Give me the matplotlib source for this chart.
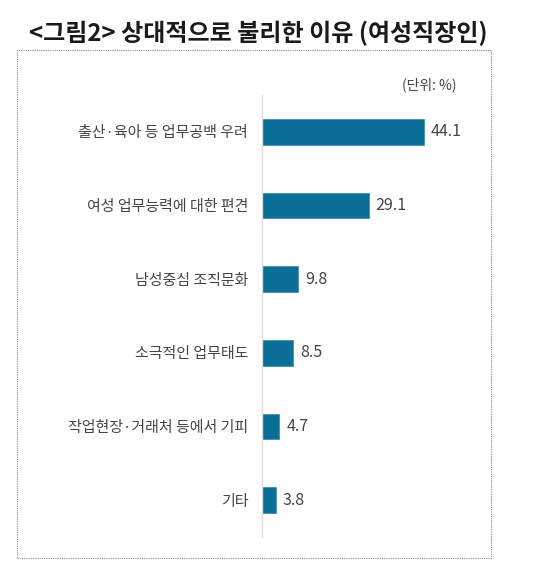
import matplotlib
matplotlib.use("Agg")
import matplotlib.pyplot as plt
from matplotlib.patches import Rectangle

plt.rcParams['font.family'] = ['Noto Sans CJK KR', 'DejaVu Sans']

title = "<그림2> 상대적으로 불리한 이유 (여성직장인)"
unit_label = "(단위: %)"
categories = [
    "출산·육아 등 업무공백 우려",
    "여성 업무능력에 대한 편견",
    "남성중심 조직문화",
    "소극적인 업무태도",
    "작업현장·거래처 등에서 기피",
    "기타",
]
values = [44.1, 29.1, 9.8, 8.5, 4.7, 3.8]

bar_color = "#0b6f98"
text_color = "#454545"


def main():
    fig = plt.figure(figsize=(5.37, 5.79), dpi=100)
    fig.patch.set_facecolor("white")

    # dotted frame around the chart
    fig.patches.append(Rectangle((17 / 537, 1 - 558 / 579), 474 / 537, 508 / 579,
                                 transform=fig.transFigure, fill=False,
                                 edgecolor="#8a8a8a", linestyle=(0, (1, 1)),
                                 linewidth=0.8))

    fig.text(0.481, 0.943, title, ha="center", va="center",
             fontsize=17.3, color="#1a1a1a", weight="bold")
    fig.text(457 / 537, 1 - 85 / 579, unit_label, ha="right", va="center",
             fontsize=10, color=text_color, weight="medium")

    ax = fig.add_axes([262 / 537, 1 - 537 / 579, 220 / 537, 442 / 579])
    y = list(range(len(categories)))
    ax.barh(y, values, height=0.35, color=bar_color, edgecolor="#3f8fb3",
            linewidth=0.6)
    ax.set_xlim(0, 60)
    ax.set_ylim(len(categories) - 0.5, -0.5)

    for yi, v in zip(y, values):
        ax.text(v + 1.9, yi, f"{v:.1f}", va="center", ha="left",
                fontsize=11.5, color=text_color, weight="medium")

    ax.set_yticks(y)
    ax.set_yticklabels(categories, fontsize=10.8, color=text_color,
                       weight="medium")
    ax.tick_params(axis="y", length=0, pad=10)
    ax.set_xticks([])
    for side in ["top", "right", "bottom"]:
        ax.spines[side].set_visible(False)
    ax.spines["left"].set_color("#dcdcdc")
    ax.spines["left"].set_linewidth(1.0)
    ax.set_facecolor("none")

    fig.savefig("out.png", dpi=100, facecolor="white")


if __name__ == "__main__":
    main()
